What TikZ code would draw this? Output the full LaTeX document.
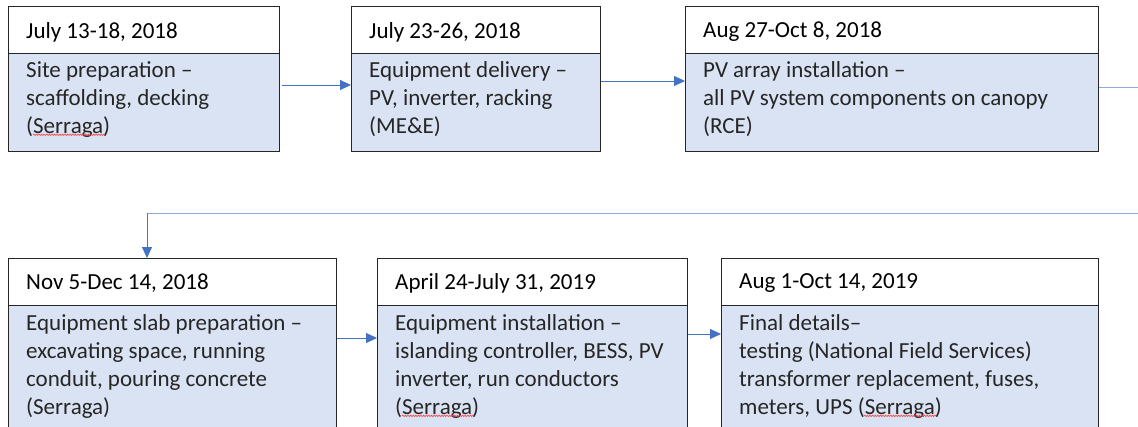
\documentclass[tikz,border=0pt]{standalone}
\usepackage{fontspec}
\setmainfont{Carlito}
\usetikzlibrary{arrows.meta,calc,decorations.pathmorphing}
\definecolor{bodyfill}{HTML}{DAE3F3}
\definecolor{arrowblue}{HTML}{4472C4}
\definecolor{lineblue}{HTML}{8FAADC}
\definecolor{txtgray}{HTML}{262626}
\begin{document}
\begin{tikzpicture}[x=1pt,y=-1pt,
  hdr/.style={draw=black!85, fill=white, line width=0.8pt, anchor=north west, inner sep=0, minimum height=47},
  bodybox/.style={draw=black!85, fill=bodyfill, line width=0.8pt, anchor=north west, inner sep=0},
  htxt/.style={anchor=west, inner sep=0, font=\fontsize{23}{28}\selectfont, text=black},
  btxt/.style={anchor=north west, align=left, inner sep=0, font=\fontsize{23}{28}\selectfont, text=txtgray},
  conn/.style={draw=arrowblue, line width=0.9pt, -{Triangle[length=11pt,width=10pt]}},
  longline/.style={draw=lineblue, line width=1pt},
  squig/.style={draw=red!80, line width=0.5pt, decorate, decoration={snake, amplitude=0.8pt, segment length=2.6pt}}
]
\useasboundingbox (0,0) rectangle (1138,426);
\clip (0,0) rectangle (1138,426);
\fill[white] (0,0) rectangle (1138,426);

% top row
\node[bodybox, minimum width=271, minimum height=98] (b1) at (8,53) {};
\node[hdr, minimum width=271] (h1) at (8,6) {};
\node[bodybox, minimum width=249, minimum height=98] (b2) at (351,53) {};
\node[hdr, minimum width=249] (h2) at (351,6) {};
\node[bodybox, minimum width=413, minimum height=98] (b3) at (685,53) {};
\node[hdr, minimum width=413] (h3) at (685,6) {};

\node[htxt] (t1) at ($(h1.west)+(18,2)$) {July 13-18, 2018};
\node[htxt] (t2) at ($(h2.west)+(18,2)$) {July 23-26, 2018};
\node[htxt] (t3) at ($(h3.west)+(18,2)$) {Aug 27-Oct 8, 2018};

\node[btxt] (c1) at ($(b1.north west)+(18,8)$) {Site preparation –\\scaffolding, decking\\(Serraga)};
\node[btxt] (c2) at ($(b2.north west)+(18,8)$) {Equipment delivery –\\PV, inverter, racking\\(ME\&E)};
\node[btxt] (c3) at ($(b3.north west)+(18,8)$) {PV array installation –\\all PV system components on canopy\\(RCE)};

% bottom row
\node[bodybox, minimum width=328, minimum height=160] (b4) at (8,305) {};
\node[hdr, minimum width=328] (h4) at (8,258) {};
\node[bodybox, minimum width=310, minimum height=160] (b5) at (377,305) {};
\node[hdr, minimum width=310] (h5) at (377,258) {};
\node[bodybox, minimum width=377, minimum height=160] (b6) at (721,305) {};
\node[hdr, minimum width=377] (h6) at (721,258) {};

\node[htxt] (t4) at ($(h4.west)+(18,1)$) {Nov 5-Dec 14, 2018};
\node[htxt] (t5) at ($(h5.west)+(18,1)$) {April 24-July 31, 2019};
\node[htxt] (t6) at ($(h6.west)+(18,1)$) {Aug 1-Oct 14, 2019};

\node[btxt] (c4) at ($(b4.north west)+(18,9)$) {Equipment slab preparation –\\excavating space, running\\conduit, pouring concrete\\(Serraga)};
\node[btxt] (c5) at ($(b5.north west)+(18,9)$) {Equipment installation –\\islanding controller, BESS, PV\\inverter, run conductors\\(Serraga)};
\node[btxt] (c6) at ($(b6.north west)+(18,9)$) {Final details–\\testing (National Field Services)\\transformer replacement, fuses,\\meters, UPS (Serraga)};

% spell-check underlines
\draw[squig] ($(c1.south west)+(7,-2.5)$) -- ++(72,0);
\draw[squig] ($(c5.south west)+(7,-2.5)$) -- ++(72,0);
\draw[squig] ($(c6.south west)+(125,-2.5)$) -- ++(72,0);

% connectors
\coordinate (e1) at ($(b1.north east)+(2,32)$);
\draw[conn] (e1) -- (e1 -| b2.west);
\coordinate (e2) at ($(b2.north east)+(0,28)$);
\draw[conn] (e2) -- (e2 -| b3.west);
\coordinate (e3) at ($(b3.north east)+(0,34)$);
\coordinate (out3) at (1140,0 |- e3);
\draw[longline] (e3) -- (out3);
\coordinate (in4) at (1140,213);
\coordinate (turn4) at (147,213);
\draw[longline] (in4) -- (turn4);
\draw[conn] (turn4) -- (turn4 |- h4.north);
\coordinate (e4) at ($(b4.north east)+(0,33)$);
\draw[conn] (e4) -- (e4 -| b5.west);
\coordinate (e5) at ($(b5.north east)+(0,29)$);
\draw[conn] (e5) -- (e5 -| b6.west);
\end{tikzpicture}
\end{document}
